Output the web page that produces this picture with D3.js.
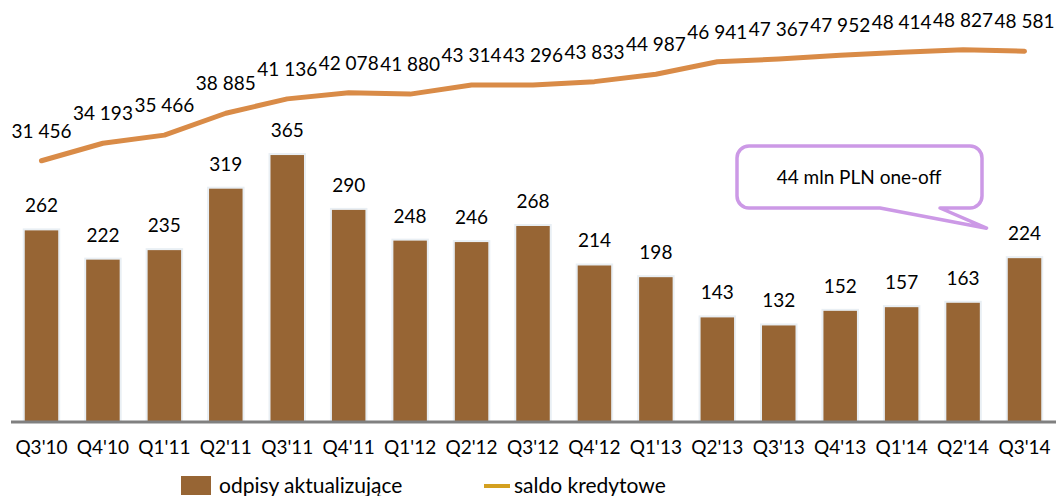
<!DOCTYPE html>
<html>
<head>
<meta charset="utf-8">
<script src="https://cdn.jsdelivr.net/npm/d3@7"></script>
<style>
  html, body { margin: 0; padding: 0; background: #fff; }
  svg { display: block; font-family: Lato, "Open Sans", sans-serif; }
</style>
</head>
<body>
<div id="chart"></div>
<script>
// quarters, write-offs (bars) and credit balance (line)
const quarters = ["Q3'10","Q4'10","Q1'11","Q2'11","Q3'11","Q4'11","Q1'12","Q2'12","Q3'12",
                  "Q4'12","Q1'13","Q2'13","Q3'13","Q4'13","Q1'14","Q2'14","Q3'14"];
const odpisy = [262, 222, 235, 319, 365, 290, 248, 246, 268, 214, 198, 143, 132, 152, 157, 163, 224];
const saldo = [31456, 34193, 35466, 38885, 41136, 42078, 41880, 43314, 43296, 43833, 44987,
               46941, 47367, 47952, 48414, 48827, 48581];
const legendLabels = ["odpisy aktualizujące", "saldo kredytowe"];
const calloutText = "44 mln PLN one-off";

const W = 1056, H = 496;
const baseY = 422;
const fs = 19;
const fmt = v => d3.format(",")(v).replace(/,/g, " ");

const svg = d3.select("#chart").append("svg").attr("width", W).attr("height", H);

const x = d3.scaleBand().domain(quarters).range([10, 1056]).paddingInner(0.455).paddingOuter(0.24);
const yBar = d3.scaleLinear().domain([0, 577]).range([baseY, 0]);
const yLine = d3.scaleLinear().domain([-9400, 56600]).range([baseY, 0]);
const cx = q => x(q) + x.bandwidth() / 2;

// bars with a faint halo
svg.append("g").selectAll("rect").data(odpisy).join("rect")
  .attr("x", (d, i) => x(quarters[i]) - 2)
  .attr("y", d => yBar(d) - 2)
  .attr("width", x.bandwidth() + 4)
  .attr("height", d => baseY - yBar(d) + 2)
  .attr("fill", "#e9eff4");
svg.append("g").selectAll("rect").data(odpisy).join("rect")
  .attr("x", (d, i) => x(quarters[i]))
  .attr("y", d => yBar(d))
  .attr("width", x.bandwidth())
  .attr("height", d => baseY - yBar(d))
  .attr("fill", "#976534");

// bar labels
svg.append("g").selectAll("text").data(odpisy).join("text")
  .attr("x", (d, i) => cx(quarters[i]))
  .attr("y", d => yBar(d) - 18)
  .attr("text-anchor", "middle")
  .attr("font-size", fs).attr("fill", "#000")
  .text(d => d);

// axis baseline + category labels
const xAxis = svg.append("g").attr("transform", `translate(0,${baseY})`)
  .call(d3.axisBottom(x).tickSize(0).tickPadding(19));
xAxis.select(".domain").attr("d", "M11,0H1056").attr("stroke", "#808080").attr("stroke-width", 3);
xAxis.selectAll("text").attr("font-size", fs).attr("font-family", "Lato, sans-serif").attr("fill", "#000");

// credit balance line
const line = d3.line().x((d, i) => cx(quarters[i])).y(d => yLine(d));
svg.append("path").datum(saldo)
  .attr("d", line)
  .attr("fill", "none").attr("stroke", "#d98b47").attr("stroke-width", 5)
  .attr("stroke-linejoin", "round").attr("stroke-linecap", "round");

svg.append("g").selectAll("text").data(saldo).join("text")
  .attr("x", (d, i) => cx(quarters[i]))
  .attr("y", d => yLine(d) - 23)
  .attr("text-anchor", "middle")
  .attr("font-size", fs).attr("fill", "#000")
  .text(fmt);

// callout pointing at the last bar
const last = quarters[quarters.length - 1];
const tipX = cx(last) - 38, tipY = yBar(odpisy[odpisy.length - 1]) - 30;
const bx0 = 737, bx1 = 982, by0 = 146, by1 = 208, r = 12;
const callout = d3.path();
callout.moveTo(bx0 + r, by0);
callout.lineTo(bx1 - r, by0);
callout.arcTo(bx1, by0, bx1, by0 + r, r);
callout.lineTo(bx1, by1 - r);
callout.arcTo(bx1, by1, bx1 - r, by1, r);
callout.lineTo(940, by1);
callout.lineTo(tipX, tipY);
callout.lineTo(880, by1);
callout.lineTo(bx0 + r, by1);
callout.arcTo(bx0, by1, bx0, by1 - r, r);
callout.lineTo(bx0, by0 + r);
callout.arcTo(bx0, by0, bx0 + r, by0, r);
callout.closePath();
svg.append("path").attr("d", callout.toString())
  .attr("fill", "#fff").attr("stroke", "#cc99e6").attr("stroke-width", 3.5)
  .attr("stroke-linejoin", "round");
svg.append("text").attr("x", 859).attr("y", 184)
  .attr("text-anchor", "middle").attr("font-size", fs).attr("fill", "#000")
  .text(calloutText);

// legend
const lg = svg.append("g");
lg.append("rect").attr("x", 181).attr("y", 476).attr("width", 30).attr("height", 19).attr("fill", "#976534");
lg.append("text").attr("x", 219).attr("y", 493).attr("font-size", 21).text(legendLabels[0]);
lg.append("rect").attr("x", 484).attr("y", 484).attr("width", 26).attr("height", 4).attr("fill", "#d4a020");
lg.append("text").attr("x", 514).attr("y", 493).attr("font-size", 21).text(legendLabels[1]);
</script>
</body>
</html>
